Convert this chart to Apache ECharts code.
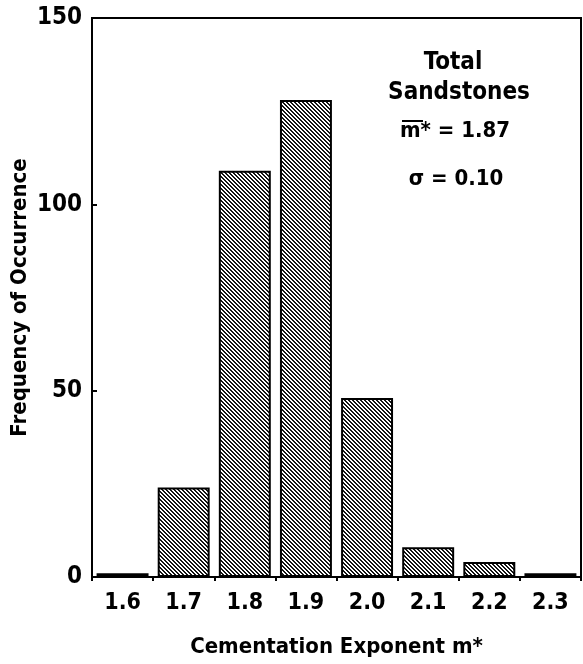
<!DOCTYPE html>
<html>
<head>
<meta charset="utf-8">
<script src="https://cdn.jsdelivr.net/npm/echarts@6/dist/echarts.min.js"></script>
<style>
  html, body { margin: 0; padding: 0; background: #fff; }
  #chart { width: 583px; height: 664px; }
</style>
</head>
<body>
<div id="chart"></div>
<script>
// 类别 / 数值
var categories = ['1.6', '1.7', '1.8', '1.9', '2.0', '2.1', '2.2', '2.3'];
var counts = [1, 24, 109, 128, 48, 8, 4, 1];
var yTicks = [0, 50, 100, 150];

var FONT = "'Liberation Sans Narrow', 'DejaVu Sans Condensed', 'Liberation Sans', sans-serif";

/* 斜线填充 */
function hatchPattern() {
	var c = document.createElement('canvas');
	c.width = 4;
	c.height = 4;
	var ctx = c.getContext('2d');
	var img = ctx.createImageData(4, 4);
	for (var y = 0; y < 4; y++) {
		for (var x = 0; x < 4; x++) {
			var k = (y * 4 + x) * 4;
			var dark = ((x - y + 8) % 4) < 2;
			var v = dark ? 20 : 255;
			img.data[k] = v;
			img.data[k + 1] = v;
			img.data[k + 2] = v;
			img.data[k + 3] = 255;
		}
	}
	ctx.putImageData(img, 0, 0);
	return c;
}

var myChart = echarts.init(document.getElementById('chart'));

var option = {
	animation: false,
	backgroundColor: '#fff',
	grid: {
		left: 92,
		right: 2,
		top: 18,
		bottom: 87,
		outerBoundsMode: 'none',
		containLabel: false,
		show: true,
		borderColor: '#000',
		borderWidth: 2
	},
	xAxis: {
		type: 'category',
		data: categories,
		name: 'Cementation Exponent m*',
		nameLocation: 'middle',
		nameGap: 59,
		nameMoveOverlap: false,
		nameTextStyle: {
			fontFamily: FONT,
			fontWeight: 'bold',
			fontSize: 22,
			color: '#000'
		},
		axisLine: { lineStyle: { color: '#000', width: 2 } },
		axisTick: { show: true, length: 4, lineStyle: { color: '#000', width: 2 } },
		axisLabel: {
			margin: 15,
			fontFamily: FONT,
			fontWeight: 'bold',
			fontSize: 23,
			color: '#000'
		},
		splitLine: { show: false }
	},
	yAxis: {
		type: 'value',
		min: yTicks[0],
		max: yTicks[yTicks.length - 1],
		interval: yTicks[1] - yTicks[0],
		name: 'Frequency of Occurrence',
		nameLocation: 'middle',
		nameGap: 61,
		nameMoveOverlap: false,
		nameTextStyle: {
			fontFamily: FONT,
			fontWeight: 'bold',
			fontSize: 22,
			color: '#000'
		},
		axisLine: { show: true, lineStyle: { color: '#000', width: 2 } },
		axisTick: { show: true, inside: true, length: 5, lineStyle: { color: '#000', width: 2 } },
		axisLabel: {
			margin: 10,
			fontFamily: FONT,
			fontWeight: 'bold',
			fontSize: 24,
			color: '#000'
		},
		splitLine: { show: false }
	},
	series: [{
		type: 'bar',
		data: counts,
		barCategoryGap: '15%',
		itemStyle: {
			color: { image: hatchPattern(), repeat: 'repeat' },
			borderColor: '#000',
			borderWidth: 2
		}
	}],
	graphic: [
		{
			type: 'text',
			x: 453, y: 51,
			style: { text: 'Total', align: 'center', font: 'bold 24px ' + FONT, fill: '#000' }
		},
		{
			type: 'text',
			x: 459, y: 81,
			style: { text: 'Sandstones', align: 'center', font: 'bold 24px ' + FONT, fill: '#000' }
		},
		{
			type: 'text',
			x: 455, y: 120,
			style: { text: 'm* = 1.87', align: 'center', font: 'bold 22px ' + FONT, fill: '#000' }
		},
		{
			type: 'line',
			shape: { x1: 402, y1: 121, x2: 423, y2: 121 },
			style: { stroke: '#000', lineWidth: 2 }
		},
		{
			type: 'text',
			x: 456, y: 168,
			style: { text: 'σ = 0.10', align: 'center', font: 'bold 22px ' + FONT, fill: '#000' }
		}
	]
};

myChart.setOption(option);
</script>
</body>
</html>
